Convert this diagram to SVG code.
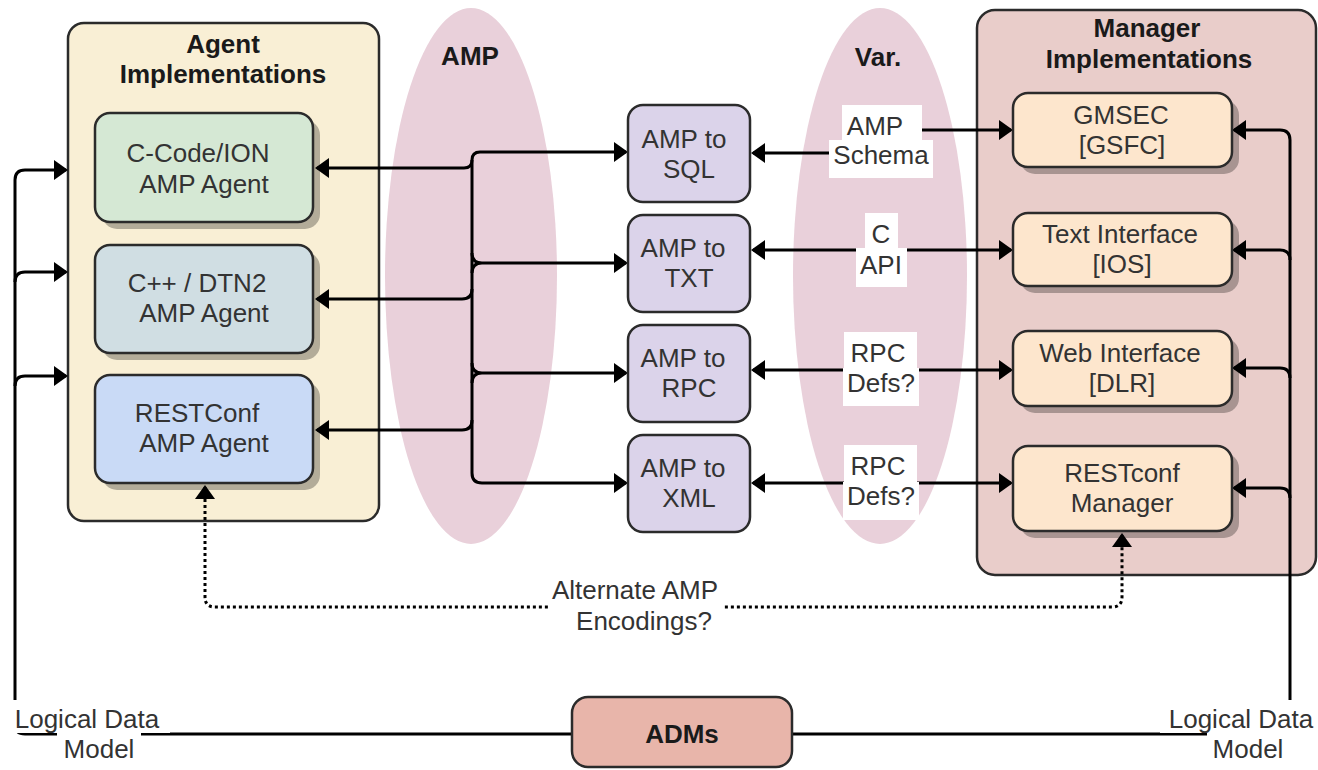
<svg xmlns="http://www.w3.org/2000/svg" width="1318" height="770" viewBox="0 0 1318 770">
  <defs>
    <marker id="arrow" viewBox="0 0 14 20" refX="12" refY="10" markerWidth="14" markerHeight="20" markerUnits="userSpaceOnUse" orient="auto-start-reverse">
      <path d="M0,0 L14,10 L0,20 z" fill="#000"/>
    </marker>
  </defs>
  <style>
    .t{font-family:"Liberation Sans",Arial,Helvetica,sans-serif;font-size:26px;fill:#333;text-anchor:middle}
    .b{font-weight:bold;fill:#1a1a1a}
    .box{stroke:#2b2b2b;stroke-width:2.5}
    .shadow{fill:#000;opacity:0.28}
    .edge{fill:none;stroke:#000;stroke-width:3}
    .dot{stroke-dasharray:3 3}
    .lbl{fill:#fff}
    .zone{fill:#e9d0da}
  </style>

  <rect x="0" y="0" width="1318" height="770" fill="#fff"/>

  <!-- encoding zones -->
  <g id="zone-amp">
    <ellipse class="zone" cx="471" cy="276" rx="86" ry="268"/>
    <text class="t b" x="470" y="65">AMP</text>
  </g>
  <g id="zone-var">
    <ellipse class="zone" cx="880" cy="276" rx="87" ry="268"/>
    <text class="t b" x="878" y="66">Var.</text>
  </g>

  <!-- containers -->
  <g id="agent-implementations">
    <rect class="box" x="68" y="23" width="311" height="498" rx="16" fill="#f9efd5"/>
    <text class="t b" x="223" y="53">Agent</text>
    <text class="t b" x="223" y="83">Implementations</text>
  </g>
  <g id="manager-implementations">
    <rect class="box" x="977" y="10" width="339" height="565" rx="18" fill="#e9cdca"/>
    <text class="t b" x="1147" y="37">Manager</text>
    <text class="t b" x="1149" y="68">Implementations</text>
  </g>

  <!-- connectors -->
  <g id="connectors">
    <!-- ADMs to agents (logical data model) -->
    <path class="edge" d="M572,734 H25 Q15,734 15,724 V180 Q15,170 25,170 H66" marker-end="url(#arrow)"/>
    <path class="edge" d="M15,282 Q15,272 25,272 H66" marker-end="url(#arrow)"/>
    <path class="edge" d="M15,386 Q15,376 25,376 H66" marker-end="url(#arrow)"/>

    <!-- ADMs to managers (logical data model) -->
    <path class="edge" d="M790,734 H1280 Q1290,734 1290,724 V140 Q1290,130 1280,130 H1234" marker-end="url(#arrow)"/>
    <path class="edge" d="M1290,260 Q1290,250 1280,250 H1234" marker-end="url(#arrow)"/>
    <path class="edge" d="M1290,378 Q1290,368 1280,368 H1234" marker-end="url(#arrow)"/>
    <path class="edge" d="M1290,498 Q1290,488 1280,488 H1234" marker-end="url(#arrow)"/>

    <!-- agents to converters -->
    <path class="edge" d="M472,160 V473"/>
    <path class="edge" d="M626,152 H480 Q472,152 472,160 Q472,168 464,168 H317" marker-start="url(#arrow)" marker-end="url(#arrow)"/>
    <path class="edge" d="M626,263 H482 Q472,263 472,253 M482,263 Q472,263 472,273" marker-start="url(#arrow)"/>
    <path class="edge" d="M626,373 H482 Q472,373 472,363 M482,373 Q472,373 472,383" marker-start="url(#arrow)"/>
    <path class="edge" d="M626,483 H482 Q472,483 472,473" marker-start="url(#arrow)"/>
    <path class="edge" d="M472,289 Q472,299 462,299 H317" marker-end="url(#arrow)"/>
    <path class="edge" d="M472,420 Q472,430 462,430 H317" marker-end="url(#arrow)"/>

    <!-- converters to managers -->
    <path class="edge" d="M753,153 H881 V130 H1011" marker-start="url(#arrow)" marker-end="url(#arrow)"/>
    <path class="edge" d="M753,250 H1011" marker-start="url(#arrow)" marker-end="url(#arrow)"/>
    <path class="edge" d="M753,370 H1011" marker-start="url(#arrow)" marker-end="url(#arrow)"/>
    <path class="edge" d="M753,483 H1011" marker-start="url(#arrow)" marker-end="url(#arrow)"/>

    <!-- alternate encodings -->
    <path class="edge dot" d="M205,487 V597 Q205,607 215,607 H1112 Q1122,607 1122,597 V535" marker-start="url(#arrow)" marker-end="url(#arrow)"/>

    <!-- connector labels -->
    <g id="label-amp-schema">
      <rect class="lbl" x="842" y="105" width="80" height="35"/>
      <rect class="lbl" x="829" y="140" width="104" height="38"/>
      <text class="t" x="875" y="135">AMP</text>
      <text class="t" x="881" y="164">Schema</text>
    </g>
    <g id="label-c-api">
      <rect class="lbl" x="865" y="213" width="33" height="35"/>
      <rect class="lbl" x="856" y="248" width="51" height="39"/>
      <text class="t" x="881" y="243">C</text>
      <text class="t" x="881" y="274">API</text>
    </g>
    <g id="label-rpc-1">
      <rect class="lbl" x="844" y="332" width="73" height="36"/>
      <rect class="lbl" x="843" y="368" width="76" height="38"/>
      <text class="t" x="878" y="362">RPC</text>
      <text class="t" x="881" y="392">Defs?</text>
    </g>
    <g id="label-rpc-2">
      <rect class="lbl" x="844" y="445" width="73" height="37"/>
      <rect class="lbl" x="843" y="482" width="76" height="38"/>
      <text class="t" x="878" y="475">RPC</text>
      <text class="t" x="881" y="505">Defs?</text>
    </g>
    <g id="label-alternate">
      <rect class="lbl" x="548" y="576" width="174" height="64"/>
      <text class="t" x="635" y="599">Alternate AMP</text>
      <text class="t" x="644" y="630">Encodings?</text>
    </g>
    <g id="label-ldm-left">
      <rect class="lbl" x="6" y="700" width="164" height="33"/>
      <rect class="lbl" x="57" y="733" width="84" height="34"/>
      <text class="t" x="87" y="728">Logical Data</text>
      <text class="t" x="99" y="758">Model</text>
    </g>
    <g id="label-ldm-right">
      <rect class="lbl" x="1160" y="700" width="158" height="33"/>
      <rect class="lbl" x="1207" y="733" width="83" height="34"/>
      <text class="t" x="1241" y="728">Logical Data</text>
      <text class="t" x="1248" y="758">Model</text>
    </g>
  </g>

  <!-- agents -->
  <g id="agent-c-code">
    <rect class="shadow" x="102" y="120" width="218" height="109" rx="15"/>
    <rect class="box" x="95" y="113" width="218" height="109" rx="15" fill="#d5e8d4"/>
    <text class="t" x="198" y="162">C-Code/ION</text>
    <text class="t" x="204" y="193">AMP Agent</text>
  </g>
  <g id="agent-cpp">
    <rect class="shadow" x="102" y="252" width="218" height="108" rx="15"/>
    <rect class="box" x="95" y="245" width="218" height="108" rx="15" fill="#d0dee3"/>
    <text class="t" x="197" y="292">C++ / DTN2</text>
    <text class="t" x="204" y="322">AMP Agent</text>
  </g>
  <g id="agent-restconf">
    <rect class="shadow" x="102" y="382" width="218" height="108" rx="15"/>
    <rect class="box" x="95" y="375" width="218" height="108" rx="15" fill="#c9daf6"/>
    <text class="t" x="197" y="422">RESTConf</text>
    <text class="t" x="204" y="452">AMP Agent</text>
  </g>

  <!-- converters -->
  <g id="amp-to-sql">
    <rect class="box" x="628" y="105" width="122" height="97" rx="15" fill="#dbd3ea"/>
    <text class="t" x="684" y="148">AMP to</text>
    <text class="t" x="689" y="178">SQL</text>
  </g>
  <g id="amp-to-txt">
    <rect class="box" x="628" y="215" width="122" height="97" rx="15" fill="#dbd3ea"/>
    <text class="t" x="683" y="257">AMP to</text>
    <text class="t" x="689" y="287">TXT</text>
  </g>
  <g id="amp-to-rpc">
    <rect class="box" x="628" y="325" width="122" height="97" rx="15" fill="#dbd3ea"/>
    <text class="t" x="683" y="367">AMP to</text>
    <text class="t" x="689" y="397">RPC</text>
  </g>
  <g id="amp-to-xml">
    <rect class="box" x="628" y="435" width="122" height="97" rx="15" fill="#dbd3ea"/>
    <text class="t" x="683" y="477">AMP to</text>
    <text class="t" x="689" y="507">XML</text>
  </g>

  <!-- managers -->
  <g id="manager-gmsec">
    <rect class="shadow" x="1020" y="100" width="219" height="74" rx="15"/>
    <rect class="box" x="1013" y="93" width="219" height="74" rx="15" fill="#fde6cd"/>
    <text class="t" x="1121" y="124">GMSEC</text>
    <text class="t" x="1122" y="154">[GSFC]</text>
  </g>
  <g id="manager-text">
    <rect class="shadow" x="1020" y="220" width="219" height="73" rx="15"/>
    <rect class="box" x="1013" y="213" width="219" height="73" rx="15" fill="#fde6cd"/>
    <text class="t" x="1120" y="243">Text Interface</text>
    <text class="t" x="1122" y="273">[IOS]</text>
  </g>
  <g id="manager-web">
    <rect class="shadow" x="1020" y="338" width="219" height="75" rx="15"/>
    <rect class="box" x="1013" y="331" width="219" height="75" rx="15" fill="#fde6cd"/>
    <text class="t" x="1120" y="362">Web Interface</text>
    <text class="t" x="1122" y="392">[DLR]</text>
  </g>
  <g id="manager-restconf">
    <rect class="shadow" x="1020" y="453" width="219" height="85" rx="15"/>
    <rect class="box" x="1013" y="446" width="219" height="85" rx="15" fill="#fde6cd"/>
    <text class="t" x="1122" y="482">RESTconf</text>
    <text class="t" x="1122" y="512">Manager</text>
  </g>

  <!-- data models -->
  <g id="adms">
    <rect class="box" x="572" y="697" width="220" height="70" rx="16" fill="#e8b5aa"/>
    <text class="t b" x="682" y="743">ADMs</text>
  </g>
</svg>
